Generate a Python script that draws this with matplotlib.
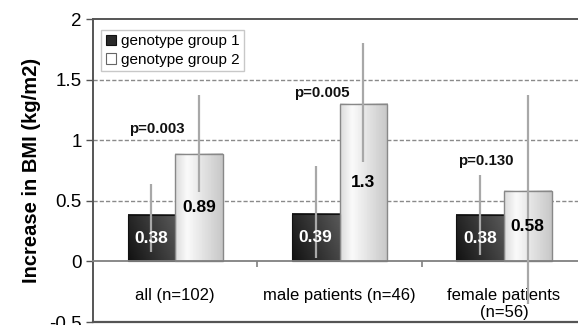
import numpy as np
import matplotlib
matplotlib.use("Agg")
import matplotlib.pyplot as plt
from matplotlib.patches import Patch

plt.rcParams['font.family'] = ['Liberation Sans', 'DejaVu Sans']

categories = ["all (n=102)", "male patients (n=46)", "female patients\n(n=56)"]
series_names = ["genotype group 1", "genotype group 2"]
group1 = [0.38, 0.39, 0.38]
group2 = [0.89, 1.30, 0.58]
group1_err_low = [0.30, 0.36, 0.33]
group1_err_high = [0.26, 0.40, 0.33]
group2_err_low = [0.32, 0.48, 0.93]
group2_err_high = [0.48, 0.50, 0.79]
p_labels = ["p=0.003", "p=0.005", "p=0.130"]
p_ypos = [1.09, 1.39, 0.83]
yticks = [-0.5, 0, 0.5, 1, 1.5, 2]
ytick_labels = ["-0.5", "0", "0.5", "1", "1.5", "2"]

fig = plt.figure(figsize=(5.78, 3.25), dpi=100)
ax = fig.add_axes([0.161, 0.009, 0.853, 0.9325])

x = np.arange(len(categories))
w = 0.29

bars1 = ax.bar(x - w / 2, group1, w, facecolor='none', edgecolor='#111111', lw=0.8, zorder=3)
bars2 = ax.bar(x + w / 2, group2, w, facecolor='none', edgecolor='#888888', lw=1.0, zorder=3)

# gradient fills
nx, ny = 64, 64
gx = np.linspace(0, 1, nx)[None, :]
gy = np.linspace(0, 1, ny)[:, None]
dark = 0.07 + 0.20 * gx + 0.08 * gy
light_profile = np.interp(gx, [0, 0.25, 1], [0.86, 0.98, 0.78])
light = light_profile + 0.0 * gy
for bars, grad in ((bars1, dark), (bars2, light)):
    for b in bars:
        x0, y0 = b.get_x(), b.get_y()
        ax.imshow(np.clip(grad, 0, 1), cmap='gray', vmin=0, vmax=1, origin='lower',
                  extent=(x0, x0 + b.get_width(), y0, y0 + b.get_height()),
                  aspect='auto', zorder=2, interpolation='bilinear')

ax.errorbar(x - w / 2, group1, yerr=[group1_err_low, group1_err_high], fmt='none',
            ecolor='#a8a8a8', elinewidth=1.6, capsize=0, zorder=4)
ax.errorbar(x + w / 2, group2, yerr=[group2_err_low, group2_err_high], fmt='none',
            ecolor='#a8a8a8', elinewidth=1.6, capsize=0, zorder=4)

for xi, v in zip(x - w / 2, group1):
    ax.text(xi, v / 2, f"{v:.2f}", color='white', ha='center', va='center',
            fontsize=12.5, fontweight='bold', zorder=5)
for xi, v in zip(x + w / 2, group2):
    lab = f"{v:.2f}" if v != 1.3 else "1.3"
    ax.text(xi, v / 2, lab, color='black', ha='center', va='center',
            fontsize=12.5, fontweight='bold', zorder=5)
for xi, lab, yy in zip(x, p_labels, p_ypos):
    ax.text(xi - 0.11, yy, lab, ha='center', va='center', fontsize=10.8,
            fontweight='bold', color='#111111', zorder=5)

ax.set_xlim(-0.5, 2.5)
ax.set_ylim(-0.5, 2)

# gridlines
for yv in [0.5, 1.0, 1.5]:
    ax.axhline(yv, color='#8a8a8a', lw=1.0, ls=(0, (3, 1.5)), zorder=1)
ax.axhline(-0.5, color='#555555', lw=1.6, zorder=6, clip_on=False)

# spines
ax.spines['bottom'].set_position(('data', 0))
ax.spines['bottom'].set_color('#808080')
ax.spines['bottom'].set_linewidth(1.3)
ax.spines['bottom'].set_zorder(3.5)
for s in ['left', 'top', 'right']:
    ax.spines[s].set_color('#555555')
    ax.spines[s].set_linewidth(1.4)

ax.set_yticks(yticks)
ax.set_yticklabels(ytick_labels)
ax.tick_params(axis='y', labelsize=13.5, length=5, width=1, color='#555555', pad=3)

ax.set_xticks([0.5, 1.5])
ax.set_xticklabels([])
ax.tick_params(axis='x', which='major', length=4, width=1.2, color='#808080', direction='out')
ax.set_xticks(x, minor=True)
ax.set_xticklabels(categories, minor=True)
ax.tick_params(axis='x', which='minor', length=0, labelsize=12, pad=19)

ax.set_ylabel("Increase in BMI (kg/m2)", fontsize=14.5, fontweight='bold', labelpad=6)

handles = [Patch(facecolor='#2a2a2a', edgecolor='#111111', lw=0.8),
           Patch(facecolor='white', edgecolor='#666666', lw=0.8)]
leg = ax.legend(handles, series_names, loc='upper left', bbox_to_anchor=(0.01, 0.975),
                fontsize=11, frameon=True, fancybox=False, edgecolor='#bbbbbb',
                handlelength=0.7, handleheight=0.7, handletextpad=0.3,
                borderpad=0.3, labelspacing=0.3, borderaxespad=0.2)
leg.get_frame().set_linewidth(1.0)
leg.set_zorder(10)

fig.savefig("out.png", dpi=100)
